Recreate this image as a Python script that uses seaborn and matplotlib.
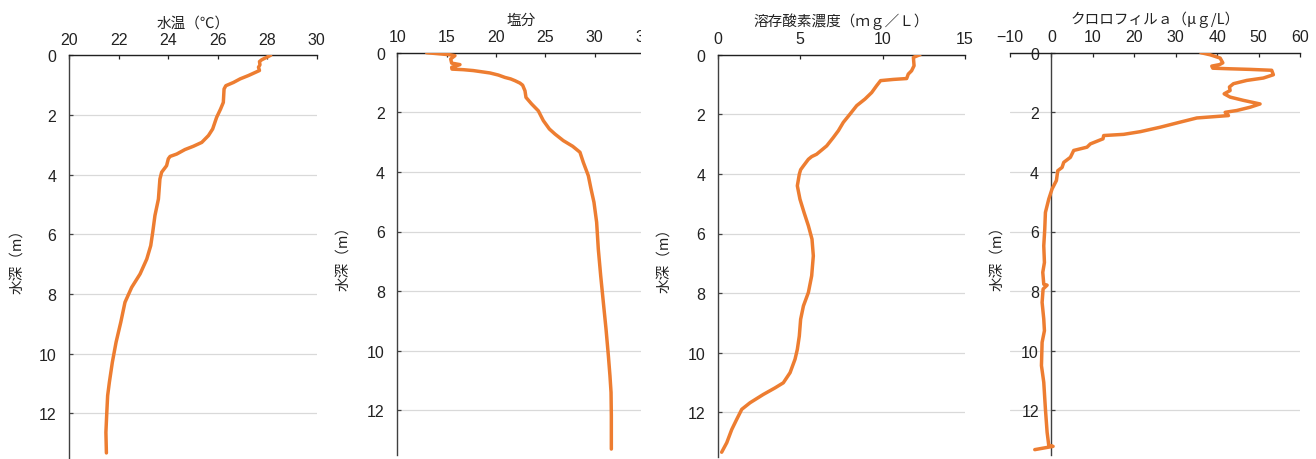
import matplotlib
matplotlib.use("Agg")
import matplotlib.pyplot as plt
from matplotlib.patches import Rectangle
import seaborn as sns
import pandas as pd

# ---- profile data (depth in m, value) ----
temp_depth = [0, 0.15, 0.21, 0.32, 0.40, 0.51, 0.68, 0.79, 0.91, 1.02, 1.13, 1.58, 1.80,
              2.08, 2.47, 2.69, 2.92, 3.05, 3.16, 3.31, 3.39, 3.47, 3.70, 3.92, 4.15,
              4.82, 5.37, 5.93, 6.38, 6.83, 7.33, 7.78, 8.28, 8.95, 9.62, 10.29, 10.96,
              11.41, 12.08, 12.64, 13.33]
temp_values = [28.14, 27.78, 27.69, 27.71, 27.65, 27.69, 27.24, 26.91, 26.64, 26.33, 26.26,
               26.23, 26.12, 25.96, 25.80, 25.63, 25.36, 25.02, 24.68, 24.35, 24.08, 24.01,
               23.94, 23.74, 23.67, 23.61, 23.47, 23.38, 23.30, 23.14, 22.87, 22.53, 22.26,
               22.09, 21.90, 21.75, 21.63, 21.56, 21.52, 21.49, 21.51]

sal_depth = [0, 0.04, 0.07, 0.10, 0.21, 0.35, 0.40, 0.49, 0.55, 0.57, 0.60, 0.64, 0.68,
             0.75, 0.83, 0.88, 0.94, 1.02, 1.09, 1.28, 1.50, 1.72, 1.95, 2.28, 2.56, 2.73,
             2.95, 3.14, 3.34, 3.68, 4.13, 4.57, 5.02, 5.69, 6.59, 7.48, 8.38, 9.27, 10.17,
             10.84, 11.40, 12.18, 13.30]
sal_values = [12.97, 14.32, 15.34, 15.84, 15.41, 15.51, 16.35, 15.51, 15.54, 16.69, 17.70,
              18.55, 19.39, 20.24, 20.91, 21.49, 21.93, 22.43, 22.70, 22.94, 23.04, 23.61,
              24.29, 24.80, 25.41, 25.98, 26.82, 27.77, 28.51, 28.85, 29.36, 29.63, 29.93,
              30.20, 30.37, 30.61, 30.88, 31.15, 31.39, 31.55, 31.66, 31.69, 31.69]

do_depth = [0, 0.09, 0.37, 0.54, 0.65, 0.80, 0.83, 0.87, 1.04, 1.27, 1.49, 1.71, 1.99, 2.27,
            2.55, 2.78, 3.06, 3.34, 3.42, 3.51, 3.73, 3.86, 4.01, 4.40, 4.85, 5.30, 5.74,
            6.19, 6.75, 7.42, 7.98, 8.43, 8.88, 9.44, 9.89, 10.22, 10.67, 11.01, 11.18,
            11.40, 11.68, 11.90, 12.24, 12.58, 13.02, 13.34]
do_values = [12.27, 11.87, 11.91, 11.76, 11.56, 11.46, 10.65, 9.88, 9.64, 9.34, 8.93, 8.43,
             8.03, 7.62, 7.32, 7.01, 6.61, 6.00, 5.70, 5.50, 5.20, 5.03, 4.95, 4.83, 4.99,
             5.24, 5.50, 5.72, 5.80, 5.70, 5.50, 5.20, 5.03, 4.95, 4.83, 4.69, 4.39, 3.98,
             3.48, 2.77, 1.96, 1.46, 1.15, 0.85, 0.55, 0.24]

chl_depth = [0, 0.07, 0.18, 0.34, 0.40, 0.45, 0.52, 0.54, 0.56, 0.59, 0.74, 0.85, 0.93,
             1.04, 1.15, 1.27, 1.38, 1.49, 1.60, 1.72, 1.83, 1.94, 2.00, 2.11, 2.19, 2.33,
             2.50, 2.65, 2.74, 2.78, 2.89, 3.06, 3.17, 3.28, 3.51, 3.68, 3.85, 3.96, 4.29,
             4.57, 4.91, 5.36, 5.92, 6.48, 7.04, 7.37, 7.77, 7.80, 7.93, 8.38, 8.94, 9.33,
             9.72, 10.50, 11.06, 11.96, 12.74, 13.18, 13.21, 13.32]
chl_values = [36.07, 38.31, 40.72, 41.37, 40.56, 38.71, 38.96, 43.13, 47.95, 53.17, 53.57,
              51.16, 47.15, 43.94, 42.97, 43.13, 41.69, 43.13, 46.35, 50.36, 47.95, 44.74,
              41.93, 42.73, 35.10, 31.08, 26.27, 21.45, 17.43, 12.61, 12.45, 9.40, 8.59,
              5.38, 4.58, 2.97, 2.57, 1.53, 1.20, 0.16, -0.64, -1.45, -1.61, -1.85, -1.69,
              -2.09, -1.85, -1.04, -2.01, -2.25, -1.85, -1.69, -2.25, -2.41, -1.85, -1.45,
              -1.04, -0.64, 0.40, -4.02]

titles = ["水温（℃）", "塩分", "溶存酸素濃度（ｍｇ／Ｌ）", "クロロフィルａ（μｇ/L）"]
depth_label = "水深（m）"
x_limits = [(20, 30), (10, 35), (0, 15), (-10, 60)]
x_steps = [2, 5, 5, 10]
depth_ticks = [0, 2, 4, 6, 8, 10, 12]

# ---- styling ----
sns.set_theme(style="white")
plt.rcParams["font.family"] = ["Noto Sans CJK JP", "DejaVu Sans"]
LINE = "#ED7D31"
SPINE = "#404040"
GRID = "#D9D9D9"
TICK_FONT = ["Liberation Sans Narrow", "Liberation Sans", "DejaVu Sans"]

W, H = 1316, 460
fig = plt.figure(figsize=(W / 100, H / 100), dpi=100)

# axes frames in pixels: left, top, right, bottom
frames = [(69, 56.3, 316.7, 459.0),
          (397.3, 53.7, 644.0, 456.0),
          (717.7, 55.7, 965.0, 458.0),
          (1010, 53.7, 1300, 456.0)]
label_x = [-0.18, -0.19, -0.19, -0.02]

profiles = [(temp_depth, temp_values), (sal_depth, sal_values),
            (do_depth, do_values), (chl_depth, chl_values)]

for i, ((dep, val), (l, t, r, b)) in enumerate(zip(profiles, frames)):
    ax = fig.add_axes([l / W, 1 - b / H, (r - l) / W, (b - t) / H])
    df = pd.DataFrame({"depth": dep, "value": val})
    sns.lineplot(data=df, x="value", y="depth", sort=False, estimator=None,
                 orient="y", color=LINE, lw=2.5, ax=ax, zorder=3)
    lo, hi = x_limits[i]
    ax.set_xlim(lo, hi)
    ax.set_ylim(13.5, 0)
    ax.set_xticks(list(range(lo, hi + 1, x_steps[i])))
    ax.set_yticks(depth_ticks)
    ax.xaxis.tick_top()
    ax.grid(axis="y", color=GRID, lw=0.9)
    ax.grid(axis="x", visible=False)
    ax.set_axisbelow(True)
    for s in ("right", "bottom"):
        ax.spines[s].set_visible(False)
    ax.spines["top"].set_color("#202020")
    ax.spines["left"].set_color(SPINE)
    ax.spines["top"].set_linewidth(1.0)
    ax.spines["left"].set_linewidth(1.0)
    if lo < 0:
        ax.spines["left"].set_position(("data", 0))
    ax.tick_params(axis="x", direction="in", length=3, width=0.9, color="#202020",
                   pad=6, labelsize=11.5, labelcolor="#222222", top=True, bottom=False)
    ax.tick_params(axis="y", direction="in", length=3, width=0.9, color=SPINE,
                   pad=9, labelsize=11.5, labelcolor="#222222", left=True)
    for lab in ax.get_xticklabels() + ax.get_yticklabels():
        lab.set_family(TICK_FONT)
    ax.set_xlabel("")
    ax.set_ylabel(depth_label, fontsize=10.5, color="#222222")
    ax.yaxis.set_label_coords(label_x[i], 0.5)
    ax.set_title(titles[i], fontsize=10.5, color="#222222", y=1.0, pad=21)

# the salinity panel is cut at its right edge
fig.add_artist(Rectangle((640.5 / W, 0), 12 / W, 1, transform=fig.transFigure,
                         facecolor="white", edgecolor="none", zorder=20))

fig.savefig("out.png", dpi=100)
